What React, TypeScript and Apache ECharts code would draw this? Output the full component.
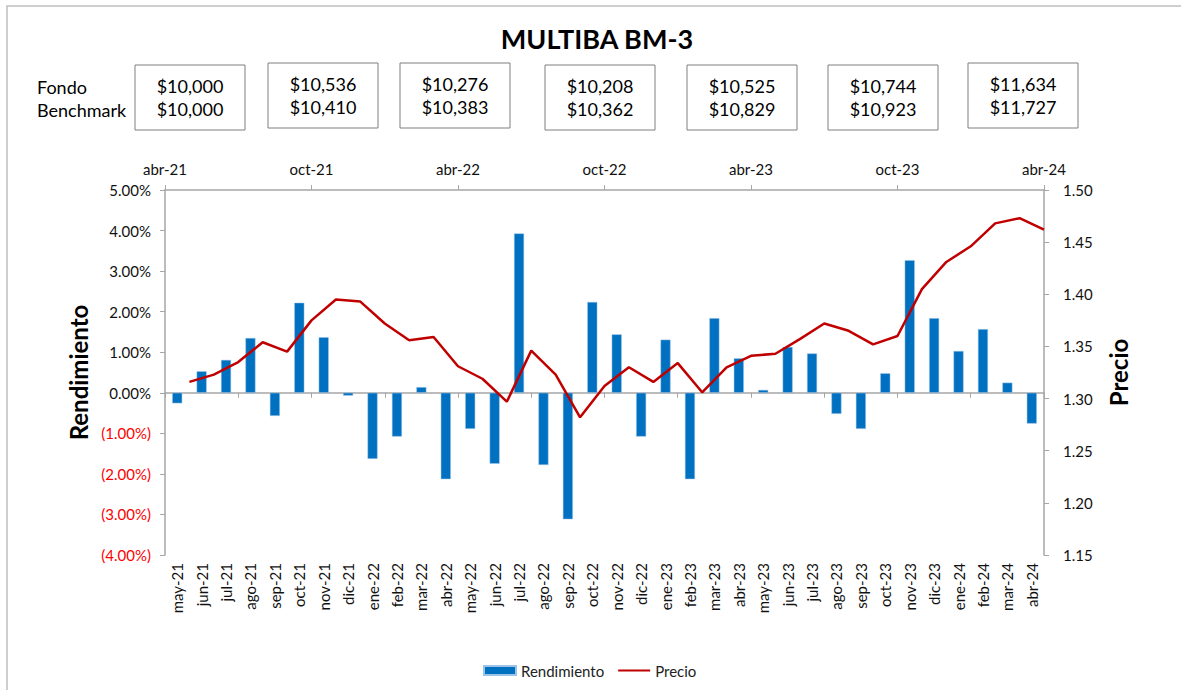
import React, { useEffect, useRef } from "react";
import * as echarts from "echarts";

const months = [
  "may-21", "jun-21", "jul-21", "ago-21", "sep-21", "oct-21", "nov-21", "dic-21",
  "ene-22", "feb-22", "mar-22", "abr-22", "may-22", "jun-22", "jul-22", "ago-22",
  "sep-22", "oct-22", "nov-22", "dic-22", "ene-23", "feb-23", "mar-23", "abr-23",
  "may-23", "jun-23", "jul-23", "ago-23", "sep-23", "oct-23", "nov-23", "dic-23",
  "ene-24", "feb-24", "mar-24", "abr-24",
];

// Rendimiento mensual (%)
const rendimiento = [
  -0.26, 0.53, 0.81, 1.35, -0.57, 2.22, 1.37, -0.07,
  -1.63, -1.08, 0.14, -2.13, -0.89, -1.75, 3.93, -1.78,
  -3.12, 2.24, 1.44, -1.08, 1.31, -2.13, 1.84, 0.85,
  0.07, 1.13, 0.97, -0.52, -0.89, 0.48, 3.27, 1.84,
  1.03, 1.57, 0.25, -0.76,
];

// Precio (fin de mes)
const precio = [
  1.316, 1.323, 1.335, 1.354, 1.345, 1.375, 1.395, 1.393,
  1.372, 1.356, 1.359, 1.331, 1.319, 1.297, 1.346, 1.323,
  1.282, 1.312, 1.330, 1.316, 1.334, 1.306, 1.330, 1.341,
  1.343, 1.357, 1.372, 1.365, 1.352, 1.360, 1.405, 1.431,
  1.446, 1.468, 1.473, 1.462,
];

const topTickLabels = ["abr-21", "oct-21", "abr-22", "oct-22", "abr-23", "oct-23", "abr-24"];
const fondoValues = ["$10,000", "$10,536", "$10,276", "$10,208", "$10,525", "$10,744", "$11,634"];
const benchmarkValues = ["$10,000", "$10,410", "$10,383", "$10,362", "$10,829", "$10,923", "$11,727"];

// layout only
const boxCenters = [190, 323, 455, 600, 742, 883, 1023];
const boxTops = [65, 63, 63, 65, 65, 65, 63];

const FONT = "Lato, 'Liberation Sans', sans-serif";

export default function App() {
  const ref = useRef<HTMLDivElement>(null);

  useEffect(() => {
    if (!ref.current) return;
    const chart = echarts.init(ref.current, undefined, { renderer: "svg" });

    const graphics: any[] = [
      {
        type: "rect",
        shape: { x: 7, y: 6, width: 1200, height: 720 },
        style: { fill: "none", stroke: "#BFBFBF", lineWidth: 1.5 },
        silent: true,
      },
      {
        type: "text",
        x: 597,
        y: 38,
        style: {
          text: "MULTIBA BM-3",
          font: `bold 27px ${FONT}`,
          fill: "#000",
          align: "center",
          verticalAlign: "middle",
        },
      },
      {
        type: "text",
        x: 37,
        y: 87,
        style: { text: "Fondo", font: `18px ${FONT}`, fill: "#000", verticalAlign: "middle" },
      },
      {
        type: "text",
        x: 37,
        y: 110,
        style: { text: "Benchmark", font: `18px ${FONT}`, fill: "#000", verticalAlign: "middle" },
      },
    ];
    fondoValues.forEach((f, i) => {
      const cx = boxCenters[i];
      const top = boxTops[i];
      graphics.push({
        type: "rect",
        shape: { x: cx - 55, y: top, width: 110, height: 65 },
        style: { fill: "#fff", stroke: "#7F7F7F", lineWidth: 1 },
      });
      graphics.push({
        type: "text",
        x: cx,
        y: top + 21,
        style: { text: f, font: `18px ${FONT}`, fill: "#000", align: "center", verticalAlign: "middle" },
      });
      graphics.push({
        type: "text",
        x: cx,
        y: top + 44,
        style: { text: benchmarkValues[i], font: `18px ${FONT}`, fill: "#000", align: "center", verticalAlign: "middle" },
      });
    });

    const axisGray = "#A6A6A6";
    const lblSize = 15;

    chart.setOption({
      animation: false,
      backgroundColor: "#fff",
      textStyle: { fontFamily: FONT },
      graphic: graphics,
      grid: { left: 165, right: 137, top: 190, bottom: 135, containLabel: false },
      legend: {
        left: 478,
        top: 658,
        itemWidth: 32,
        itemHeight: 9,
        itemGap: 14,
        textStyle: { fontSize: 15, color: "#222", fontFamily: FONT },
        data: [
          { name: "Rendimiento", icon: "rect" },
          {
            name: "Precio",
            icon: "path://M0,0 M0,3.5 L32,3.5 L32,5.5 L0,5.5 Z M32,9",
            itemStyle: { color: "#C00000" },
          },
        ],
      },
      xAxis: [
        {
          type: "category",
          data: months,
          position: "bottom",
          axisLine: { show: false, onZero: false },
          axisTick: { show: false },
          axisLabel: { rotate: 90, margin: 8, fontSize: lblSize, color: "#111", fontFamily: FONT },
        },
        {
          type: "category",
          data: months,
          position: "bottom",
          axisLine: { show: true, onZero: true, onZeroAxisIndex: 0, lineStyle: { color: axisGray, width: 1.5 } },
          axisTick: { show: true, length: 5, lineStyle: { color: axisGray } },
          axisLabel: { show: false },
        },
        {
          type: "value",
          position: "top",
          min: 0,
          max: 36,
          interval: 6,
          axisLine: { show: true, onZero: false, lineStyle: { color: axisGray, width: 1.5 } },
          axisTick: { show: true, length: 5, lineStyle: { color: axisGray } },
          axisLabel: {
            margin: 14,
            fontSize: lblSize,
            color: "#111",
            fontFamily: FONT,
            formatter: (v: number) => topTickLabels[Math.round(v / 6)] ?? "",
          },
          splitLine: { show: false },
        },
      ],
      yAxis: [
        {
          type: "value",
          position: "left",
          min: -4,
          max: 5,
          interval: 1,
          name: "Rendimiento",
          nameLocation: "middle",
          nameRotate: 90,
          nameGap: 68,
          nameTextStyle: { fontSize: 24, fontWeight: "bold", color: "#000", fontFamily: FONT },
          axisLine: { show: true, onZero: false, lineStyle: { color: axisGray, width: 1.5 } },
          axisTick: { show: true, length: 5, lineStyle: { color: axisGray } },
          axisLabel: {
            margin: 14,
            fontSize: lblSize,
            fontFamily: FONT,
            formatter: (v: number) =>
              v < 0 ? `(${Math.abs(v).toFixed(2)}%)` : `${v.toFixed(2)}%`,
            color: (v: any) => (Number(v) < 0 ? "#FF0000" : "#111"),
          },
          splitLine: { show: false },
        },
        {
          type: "value",
          position: "right",
          min: 1.15,
          max: 1.5,
          interval: 0.05,
          name: "Precio",
          nameLocation: "middle",
          nameRotate: 90,
          nameGap: 62,
          nameTextStyle: { fontSize: 24, fontWeight: "bold", color: "#000", fontFamily: FONT },
          axisLine: { show: true, onZero: false, lineStyle: { color: axisGray, width: 1.5 } },
          axisTick: { show: true, length: 5, lineStyle: { color: axisGray } },
          axisLabel: {
            margin: 19,
            fontSize: lblSize,
            color: "#111",
            fontFamily: FONT,
            formatter: (v: number) => v.toFixed(2),
          },
          splitLine: { show: false },
        },
      ],
      series: [
        {
          name: "Rendimiento",
          type: "bar",
          xAxisIndex: 0,
          yAxisIndex: 0,
          data: rendimiento,
          barWidth: 10,
          itemStyle: { color: "#0070C0", borderColor: "#9DC3E6", borderWidth: 0.5 },
        },
        {
          name: "Precio",
          type: "line",
          xAxisIndex: 2,
          yAxisIndex: 1,
          data: precio.map((v, i) => [i + 1, v]),
          symbol: "none",
          showSymbol: false,
          lineStyle: { color: "#C00000", width: 2.5 },
          itemStyle: { color: "#C00000" },
        },
      ],
    });

    return () => chart.dispose();
  }, []);

  return (
    <div
      ref={ref}
      style={{ position: "fixed", left: 0, top: 0, width: 1181, height: 690, background: "#fff" }}
    />
  );
}
